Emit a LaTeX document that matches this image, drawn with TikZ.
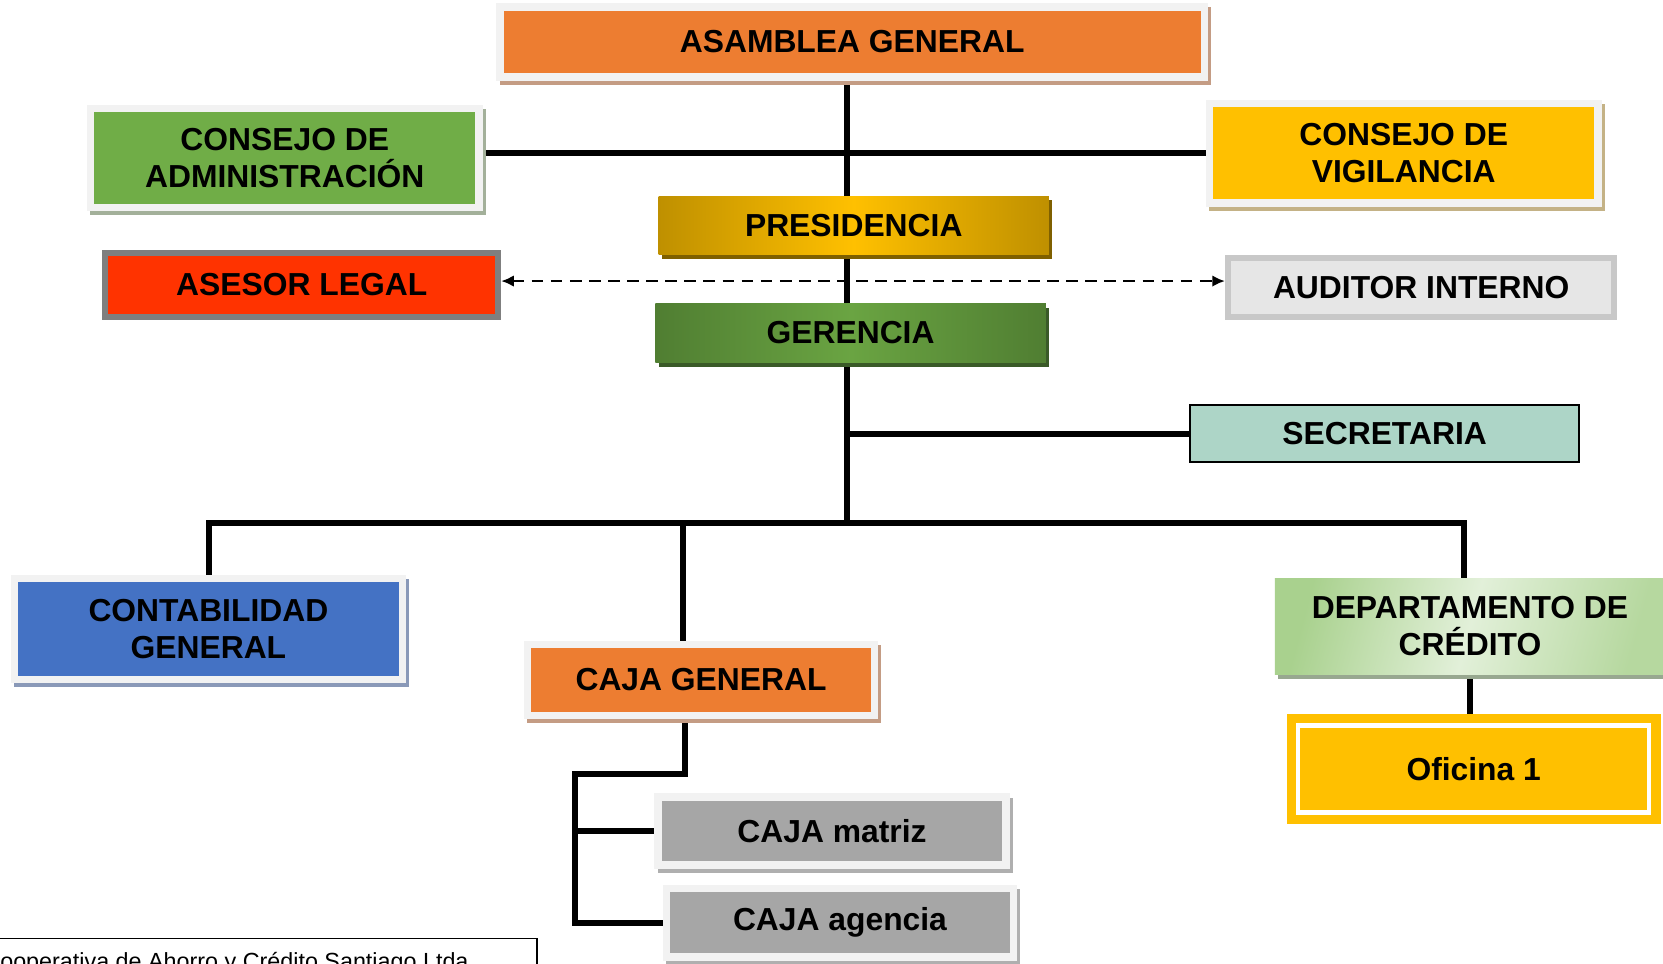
\documentclass[tikz,border=0pt]{standalone}
\usepackage{fontspec}
\setmainfont{Liberation Sans}
\usetikzlibrary{arrows.meta}
\definecolor{frameg}{HTML}{F2F2F2}
\definecolor{orangeb}{HTML}{ED7D31}
\definecolor{orangesh}{HTML}{C49C84}
\definecolor{greenb}{HTML}{70AD47}
\definecolor{greensh}{HTML}{A3B09A}
\definecolor{yellowb}{HTML}{FFC000}
\definecolor{yellowsh}{HTML}{C4B286}
\definecolor{presE}{HTML}{BF9000}
\definecolor{presC}{HTML}{FFC000}
\definecolor{pressh}{HTML}{7F6000}
\definecolor{gerE}{HTML}{507E32}
\definecolor{gerC}{HTML}{6AA442}
\definecolor{gersh}{HTML}{3A5A28}
\definecolor{redb}{HTML}{FF3300}
\definecolor{redframe}{HTML}{7F7F7F}
\definecolor{audframe}{HTML}{C8C8C8}
\definecolor{audfill}{HTML}{E6E6E6}
\definecolor{secfill}{HTML}{ADD5C7}
\definecolor{blueb}{HTML}{4472C4}
\definecolor{bluesh}{HTML}{8A99B8}
\definecolor{depA}{HTML}{A9D18E}
\definecolor{depB}{HTML}{E2F0D9}
\definecolor{depsh}{HTML}{98A890}
\definecolor{grayb}{HTML}{A6A6A6}
\definecolor{graysh}{HTML}{AFAFAF}
\pgfdeclarelayer{bg}
\pgfsetlayers{bg,main}
\begin{document}
\begin{tikzpicture}[x=0.5pt,y=-0.5pt,
  lbl/.style={font=\bfseries\fontsize{15}{17.5}\selectfont, align=center, text=black, inner sep=0pt},
  sz/.style 2 args={minimum width=#1*0.5pt, minimum height=#2*0.5pt},
  framed/.style={lbl, fill=#1, draw=frameg, line width=3.5pt},
  shad/.style={preaction={fill=#1, draw=#1, line width=3.5pt, transform canvas={xshift=1.5pt, yshift=-2pt}}},
  plainshad/.style={preaction={fill=#1, transform canvas={xshift=1.5pt, yshift=-2pt}}},
  conn/.style={line width=2.8pt, line join=miter},
  dashconn/.style={line width=1.2pt, dash pattern=on 5.5pt off 3.5pt, {Latex[length=6pt,width=5.5pt]}-{Latex[length=6pt,width=5.5pt]}},
]
\useasboundingbox (0,0) rectangle (1568,908);
\clip (0,0) rectangle (1568,908);

% boxes
\node[framed=orangeb, shad=orangesh, sz={664}{66}] (asam) at (803.5,39.5) {ASAMBLEA GENERAL};
\node[framed=greenb, shad=greensh, sz={366}{93}] (cadm) at (268.5,149) {CONSEJO DE\\ADMINISTRACIÓN};
\node[framed=yellowb, shad=yellowsh, sz={366}{94}] (cvig) at (1323.5,144.5) {CONSEJO DE\\VIGILANCIA};
\node[lbl, plainshad=pressh, left color=presE, right color=presE, middle color=presC, sz={368}{55}] (pres) at (805,212.5) {PRESIDENCIA};
\node[lbl, fill=redb, draw=redframe, line width=2.75pt, sz={370.5}{60.5}] (asesor) at (284.5,268.5) {ASESOR LEGAL};
\node[lbl, fill=audfill, draw=audframe, line width=3pt, sz={364}{56}] (audit) at (1340,271) {AUDITOR INTERNO};
\node[lbl, plainshad=gersh, left color=gerE, right color=gerE, middle color=gerC, sz={368}{56}] (ger) at (802,314) {GERENCIA};
\node[lbl, fill=secfill, draw=black, line width=1pt, sz={367}{54}] (secr) at (1305.5,409) {SECRETARIA};
\node[framed=blueb, shad=bluesh, sz={366}{95}] (cont) at (196.5,593) {CONTABILIDAD\\GENERAL};
\node[framed=orangeb, shad=orangesh, sz={327}{67}] (cajag) at (661,641) {CAJA GENERAL};
\node[lbl, plainshad=depsh, left color=depA, right color=depA!85!white, middle color=depB, shading angle=75, sz={368}{91}] (depto) at (1386,590.5) {DEPARTAMENTO DE\\CRÉDITO};
\node[lbl, fill=yellowb, draw=white, line width=2pt, preaction={draw=yellowb, line width=11pt}, sz={331}{82}] (ofi) at (1389.5,725) {Oficina 1};
\node[framed=grayb, shad=graysh, sz={328}{64}] (matriz) at (784.5,783.5) {CAJA matriz};
\node[framed=grayb, shad=graysh, sz={327}{65}] (agencia) at (792,870) {CAJA agencia};

% connector helper coordinates
\coordinate (bus) at (799,493);
\coordinate (bL) at (197,493);
\coordinate (bM) at (644,493);
\coordinate (bR) at (1380,493);
\coordinate (hl) at (799,144);
\coordinate (dl) at (799,265);
\coordinate (cj) at (646,730);
\coordinate (cjl) at (542,730);

\begin{pgfonlayer}{bg}
\draw[conn] (asam.south -| bus) -- (bus);
\draw[conn] (cadm.east |- hl) -- (cvig.west |- hl);
\draw[conn] (secr.west -| bus) -- (secr.west);
\draw[conn] (cont.north -| bL) -- (bL) -- (bR) -- (depto.north -| bR);
\draw[conn] (bM) -- (cajag.north -| bM);
\draw[conn] (depto.south) -- (depto.south |- ofi.north);
\draw[conn] (cajag.south -| cj) -- (cj) -- (cjl) |- (agencia.west);
\draw[conn] (cjl |- matriz.west) -- (matriz.west);
\end{pgfonlayer}
\draw[dashconn] (asesor.east |- dl) -- (audit.west |- dl);

% footer
\node[inner sep=0pt, anchor=base west, font=\fontsize{11}{13}\selectfont] (foottext) at (-16,914) {Cooperativa de Ahorro y Crédito Santiago Ltda.};
\draw[line width=0.8pt] (-20,885) -- (506,885) -- (506,930);
\end{tikzpicture}
\end{document}
